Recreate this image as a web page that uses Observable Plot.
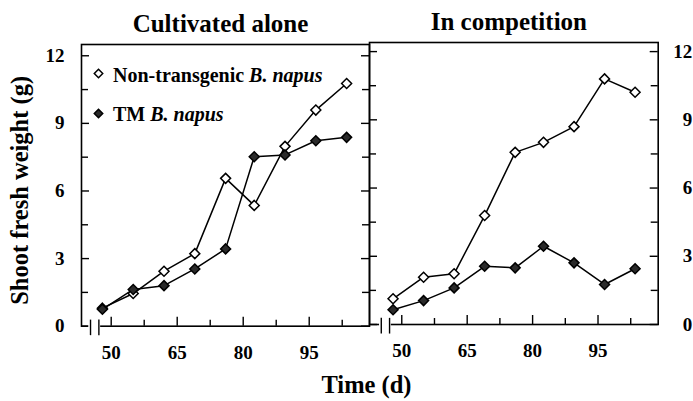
<!DOCTYPE html>
<html><head><meta charset="utf-8">
<script src="https://cdn.jsdelivr.net/npm/d3@7"></script>
<script src="https://cdn.jsdelivr.net/npm/@observablehq/plot@0.6"></script>
<style>
body{margin:0;background:#fff;}
#chart{position:relative;width:693px;height:401px;font-family:"Liberation Serif","Times New Roman",serif;font-weight:bold;color:#000;overflow:hidden;}
#chart svg{position:absolute;top:0;overflow:visible;background:transparent;}
.leg{position:absolute;white-space:nowrap;font-size:20px;line-height:1;font-weight:bold;}
.leg i{font-style:italic;}
</style></head><body><div id="chart"></div>
<script>
// Data
const days = [48, 55, 62, 69, 76, 82.5, 89.5, 96.5, 103.5];
const aloneNonTransgenic = [0.80, 1.45, 2.44, 3.22, 6.56, 5.36, 7.98, 9.59, 10.77];
const aloneTM            = [0.75, 1.63, 1.80, 2.54, 3.43, 7.52, 7.60, 8.23, 8.38];
const compNonTransgenic  = [1.13, 2.08, 2.23, 4.79, 7.57, 8.01, 8.70, 10.80, 10.21];
const compTM             = [0.65, 1.05, 1.61, 2.56, 2.49, 3.44, 2.71, 1.76, 2.45];
const panelTitles = ["Cultivated alone", "In competition"];
const yMajor = [0, 3, 6, 9, 12];
const yMinor = [1.5, 4.5, 7.5, 10.5];
const xMajor = [50, 65, 80, 95];
const xMinor = [57.5, 72.5, 87.5, 102.5];
const axisBreak = [45.3, 47.2];
const seriesNames = ["Non-transgenic", "TM"];
const yLabel = "Shoot fresh weight (g)";
const xLabel = "Time (d)";

const FONT = "Liberation Serif, Times New Roman, serif";
const toRows = (vals, s) => days.map((d, i) => ({day: d, w: vals[i], s}));

function panel({title, nonT, tm, side, width, mL, mR, mT, mB, xDom, yDom, extra}) {
  const fw = width - mL - mR, fh = 401 - mT - mB;
  const rows = [...toRows(nonT, seriesNames[0]), ...toRows(tm, seriesNames[1])];
  const marks = [
    Plot.frame({stroke: "#000", strokeWidth: 1.6}),
    // y ticks inside both vertical edges
    Plot.tickY(yMajor, {y: d => d, insetRight: fw - 8, stroke: "#000", strokeWidth: 1.4}),
    Plot.tickY(yMinor, {y: d => d, insetRight: fw - 7, stroke: "#000", strokeWidth: 1.4}),
    Plot.tickY(yMajor, {y: d => d, insetLeft: fw - 8, stroke: "#000", strokeWidth: 1.4}),
    Plot.tickY(yMinor, {y: d => d, insetLeft: fw - 7, stroke: "#000", strokeWidth: 1.4}),
    // x ticks pointing up from the bottom edge
    Plot.tickX(xMajor, {x: d => d, insetTop: fh - 9, stroke: "#000", strokeWidth: 1.4}),
    Plot.tickX(xMinor, {x: d => d, insetTop: fh - 6, stroke: "#000", strokeWidth: 1.4}),
    // axis break
    Plot.ruleY([0], {x1: axisBreak[0] - 0.4, x2: axisBreak[1] + 0.4, stroke: "#fff", strokeWidth: 3}),
    Plot.ruleX(axisBreak, {x: d => d, y1: -0.42, y2: 0.27, stroke: "#000", strokeWidth: 1.4}),
    Plot.axisX({ticks: xMajor, tickSize: 0, tickPadding: 19, label: null, fontSize: 19, fontWeight: "bold", fontFamily: FONT, tickFormat: d => d}),
    Plot.axisY({anchor: side, ticks: yMajor, tickSize: 0, tickPadding: side === "left" ? 17 : 34, label: null,
      textAnchor: "end", fontSize: 19, fontWeight: "bold", fontFamily: FONT, tickFormat: d => d}),
    Plot.line(rows, {x: "day", y: "w", z: "s", stroke: "#000", strokeWidth: 1.5}),
    Plot.dot(rows, {x: "day", y: "w", symbol: "diamond2", r: 4.5,
      fill: d => d.s === "TM" ? "#2a2a2a" : "#fff", stroke: "#000", strokeWidth: 1.5}),
    Plot.text([title], {text: d => d, frameAnchor: "top", dx: -5, dy: -13, lineAnchor: "bottom",
      fontSize: 25, fontWeight: "bold", fontFamily: FONT, fill: "#000"}),
    ...(extra || [])
  ];
  return Plot.plot({
    width, height: 401, marginLeft: mL, marginRight: mR, marginTop: mT, marginBottom: mB,
    x: {domain: xDom, axis: null},
    y: {domain: yDom, axis: null},
    style: {fontFamily: FONT, background: "transparent", overflow: "visible"},
    marks
  });
}

const left = panel({
  title: panelTitles[0], nonT: aloneNonTransgenic, tm: aloneTM, side: "left",
  width: 370, mL: 81, mR: 1, mT: 44, mB: 75.3, xDom: [43.25, 108.7], yDom: [0, 12.5],
  extra: [
    // legend symbols
    Plot.dot([seriesNames[0]], {frameAnchor: "top-left", dx: 17, dy: 29, symbol: "diamond2", r: 3.8,
      fill: "#fff", stroke: "#000", strokeWidth: 1.5}),
    Plot.dot([seriesNames[1]], {frameAnchor: "top-left", dx: 17, dy: 69, symbol: "diamond2", r: 3.8,
      fill: "#2a2a2a", stroke: "#000", strokeWidth: 1.5}),
    Plot.text([yLabel], {text: d => d, frameAnchor: "left", rotate: -90, dx: -54, dy: 5, lineAnchor: "bottom",
      textAnchor: "middle", fontSize: 24.5, fontWeight: "bold", fontFamily: FONT, fill: "#000"}),
    Plot.text([xLabel], {text: d => d, frameAnchor: "bottom-right", dx: -3, dy: 67, lineAnchor: "bottom",
      textAnchor: "middle", fontSize: 24.5, fontWeight: "bold", fontFamily: FONT, fill: "#000"})
  ]
});
const right = panel({
  title: panelTitles[1], nonT: compNonTransgenic, tm: compTM, side: "right",
  width: 325, mL: 1, mR: 35.3, mT: 42, mB: 77, xDom: [42.6, 108.8], yDom: [0, 12.4]
});

const chart = document.getElementById("chart");
left.style.left = "0px";
right.style.left = "368px";
chart.append(left, right);

const legendText = [
  {top: 64.5, html: seriesNames[0] + " <i>B. napus</i>"},
  {top: 103.5, html: seriesNames[1] + " <i>B. napus</i>"}
];
for (const t of legendText) {
  const div = document.createElement("div");
  div.className = "leg";
  div.style.left = "113px";
  div.style.top = t.top + "px";
  div.innerHTML = t.html;
  chart.append(div);
}
</script></body></html>
